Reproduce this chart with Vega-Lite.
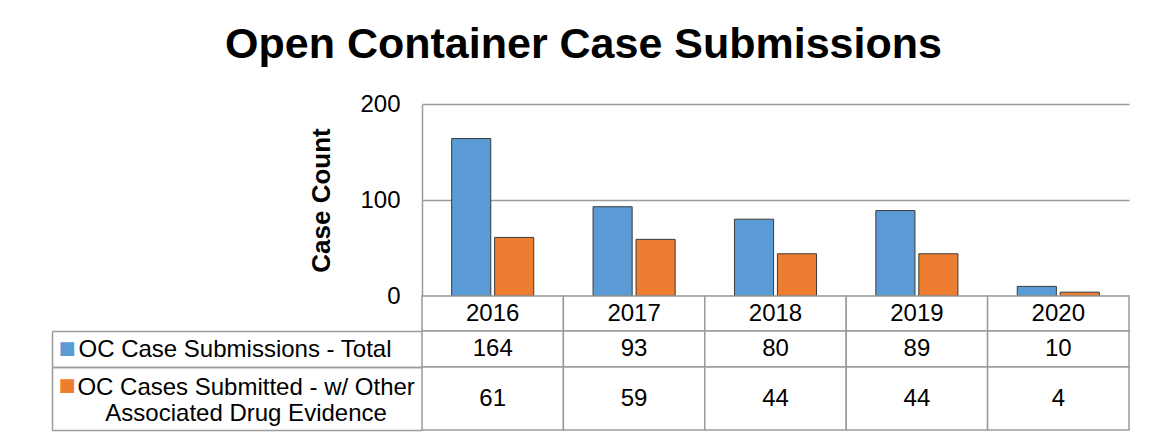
{
  "$schema": "https://vega.github.io/schema/vega-lite/v6.json",
  "padding": {"left": 51, "top": 24, "right": 20, "bottom": 10},
  "background": "white",
  "title": {"text": "Open Container Case Submissions", "fontSize": 43, "font": "Liberation Sans", "fontWeight": "bold", "color": "black", "anchor": "middle", "offset": 25, "dx": -7},
  "config": {"font": "Liberation Sans", "view": {"stroke": null}},
  "datasets": {
    "cases": [
      {"year": "2016", "series": "OC Case Submissions - Total", "value": 164},
      {"year": "2017", "series": "OC Case Submissions - Total", "value": 93},
      {"year": "2018", "series": "OC Case Submissions - Total", "value": 80},
      {"year": "2019", "series": "OC Case Submissions - Total", "value": 89},
      {"year": "2020", "series": "OC Case Submissions - Total", "value": 10},
      {"year": "2016", "series": "OC Cases Submitted - w/ Other Associated Drug Evidence", "value": 61},
      {"year": "2017", "series": "OC Cases Submitted - w/ Other Associated Drug Evidence", "value": 59},
      {"year": "2018", "series": "OC Cases Submitted - w/ Other Associated Drug Evidence", "value": 44},
      {"year": "2019", "series": "OC Cases Submitted - w/ Other Associated Drug Evidence", "value": 44},
      {"year": "2020", "series": "OC Cases Submitted - w/ Other Associated Drug Evidence", "value": 4}
    ]
  },
  "spacing": 0,
  "bounds": "flush",
  "vconcat": [
    {
      "width": 707,
      "height": 192,
      "data": {"name": "cases"},
      "mark": {"type": "bar", "stroke": "#3a3a3a", "strokeWidth": 1},
      "encoding": {
        "x": {"field": "year", "type": "ordinal", "scale": {"paddingInner": 0, "paddingOuter": 0}, "axis": null},
        "xOffset": {"field": "series", "type": "nominal", "scale": {"domain": ["OC Case Submissions - Total", "OC Cases Submitted - w/ Other Associated Drug Evidence"], "paddingInner": 0.09, "paddingOuter": 0.69}},
        "y": {
          "field": "value", "type": "quantitative",
          "scale": {"domain": [0, 200], "nice": false},
          "axis": {"title": "Case Count", "titleFontSize": 26, "titleFontWeight": "bold", "titleColor": "black", "titlePadding": 25, "values": [0, 100, 200], "labelFontSize": 24, "labelColor": "black", "labelPadding": 22, "ticks": false, "domain": true, "domainColor": "#9b9b9b", "domainWidth": 1.5, "grid": true, "gridColor": "#9b9b9b", "gridWidth": 1.5}
        },
        "color": {"field": "series", "type": "nominal", "scale": {"domain": ["OC Case Submissions - Total", "OC Cases Submitted - w/ Other Associated Drug Evidence"], "range": ["#5B9BD5", "#ED7D31"]}, "legend": null}
      }
    },
    {
      "width": 707,
      "height": 35,
      "data": {"name": "cases"},
      "transform": [{"filter": "datum.series === 'OC Case Submissions - Total'"}],
      "encoding": {"x": {"field": "year", "type": "ordinal", "scale": {"paddingInner": 0, "paddingOuter": 0}, "axis": null}},
      "layer": [
        {"mark": {"type": "rect", "fill": "white", "stroke": "#9b9b9b", "strokeWidth": 1.5}},
        {"mark": {"type": "text", "fontSize": 24, "color": "black"}, "encoding": {"text": {"field": "year"}, "y": {"datum": "h", "type": "nominal", "axis": null}}}
      ]
    },
    {
      "width": 707,
      "height": 36,
      "data": {"name": "cases"},
      "transform": [{"filter": "datum.series === 'OC Case Submissions - Total'"}],
      "layer": [
        {
          "mark": {"type": "rect", "fill": "white", "stroke": "#9b9b9b", "strokeWidth": 1.5},
          "encoding": {
            "x": {"field": "year", "type": "ordinal", "scale": {"paddingInner": 0, "paddingOuter": 0}, "axis": null},
            "y": {"field": "series", "type": "nominal", "scale": {"type": "band", "paddingInner": 0, "paddingOuter": 0},
              "axis": {"orient": "left", "title": null, "domain": false, "ticks": true, "tickBand": "extent", "tickSize": 370, "tickColor": "#9b9b9b", "tickWidth": 1.5, "labelAlign": "left", "labelBaseline": "middle", "labelPadding": -26, "labelFontSize": 24, "labelColor": "black", "labelLimit": 500}}
          }
        },
        {
          "mark": {"type": "text", "fontSize": 24, "color": "black"},
          "encoding": {
            "x": {"field": "year", "type": "ordinal", "scale": {"paddingInner": 0, "paddingOuter": 0}, "axis": null},
            "y": {"field": "series", "type": "nominal", "scale": {"type": "band", "paddingInner": 0, "paddingOuter": 0},
              "axis": {"orient": "left", "title": null, "offset": 370, "domain": true, "domainColor": "#9b9b9b", "domainWidth": 1.5, "ticks": false, "labelExpr": "'■'", "labelFont": "DejaVu Sans", "labelFontSize": 18, "labelColor": "#5B9BD5", "labelAlign": "center", "labelBaseline": "middle", "labelPadding": -14.5}},
            "text": {"field": "value"}
          }
        }
      ],
      "resolve": {"scale": {"y": "independent"}, "axis": {"y": "independent"}}
    },
    {
      "width": 707,
      "height": 63,
      "data": {"name": "cases"},
      "transform": [{"filter": "datum.series === 'OC Cases Submitted - w/ Other Associated Drug Evidence'"}],
      "layer": [
        {
          "mark": {"type": "rect", "fill": "white", "stroke": "#9b9b9b", "strokeWidth": 1.5},
          "encoding": {
            "x": {"field": "year", "type": "ordinal", "scale": {"paddingInner": 0, "paddingOuter": 0}, "axis": null},
            "y": {"field": "series", "type": "nominal", "scale": {"type": "band", "paddingInner": 0, "paddingOuter": 0},
              "axis": {"orient": "left", "title": null, "domain": false, "ticks": true, "tickBand": "extent", "tickSize": 370, "tickColor": "#9b9b9b", "tickWidth": 1.5, "labelExpr": "datum.label === '' ? '' : ['OC Cases Submitted - w/ Other', 'Associated Drug Evidence']", "labelAlign": "center", "labelBaseline": "middle", "labelLineHeight": 26, "labelOffset": -11, "labelPadding": -193.6, "labelFontSize": 24, "labelColor": "black", "labelLimit": 500}}
          }
        },
        {
          "mark": {"type": "text", "fontSize": 24, "color": "black"},
          "encoding": {
            "x": {"field": "year", "type": "ordinal", "scale": {"paddingInner": 0, "paddingOuter": 0}, "axis": null},
            "y": {"field": "series", "type": "nominal", "scale": {"type": "band", "paddingInner": 0, "paddingOuter": 0},
              "axis": {"orient": "left", "title": null, "offset": 370, "domain": true, "domainColor": "#9b9b9b", "domainWidth": 1.5, "ticks": false, "labelExpr": "'■'", "labelFont": "DejaVu Sans", "labelFontSize": 18, "labelColor": "#ED7D31", "labelAlign": "center", "labelBaseline": "middle", "labelPadding": -14.5, "labelOffset": -13}},
            "text": {"field": "value"}
          }
        }
      ],
      "resolve": {"scale": {"y": "independent"}, "axis": {"y": "independent"}}
    }
  ]
}
